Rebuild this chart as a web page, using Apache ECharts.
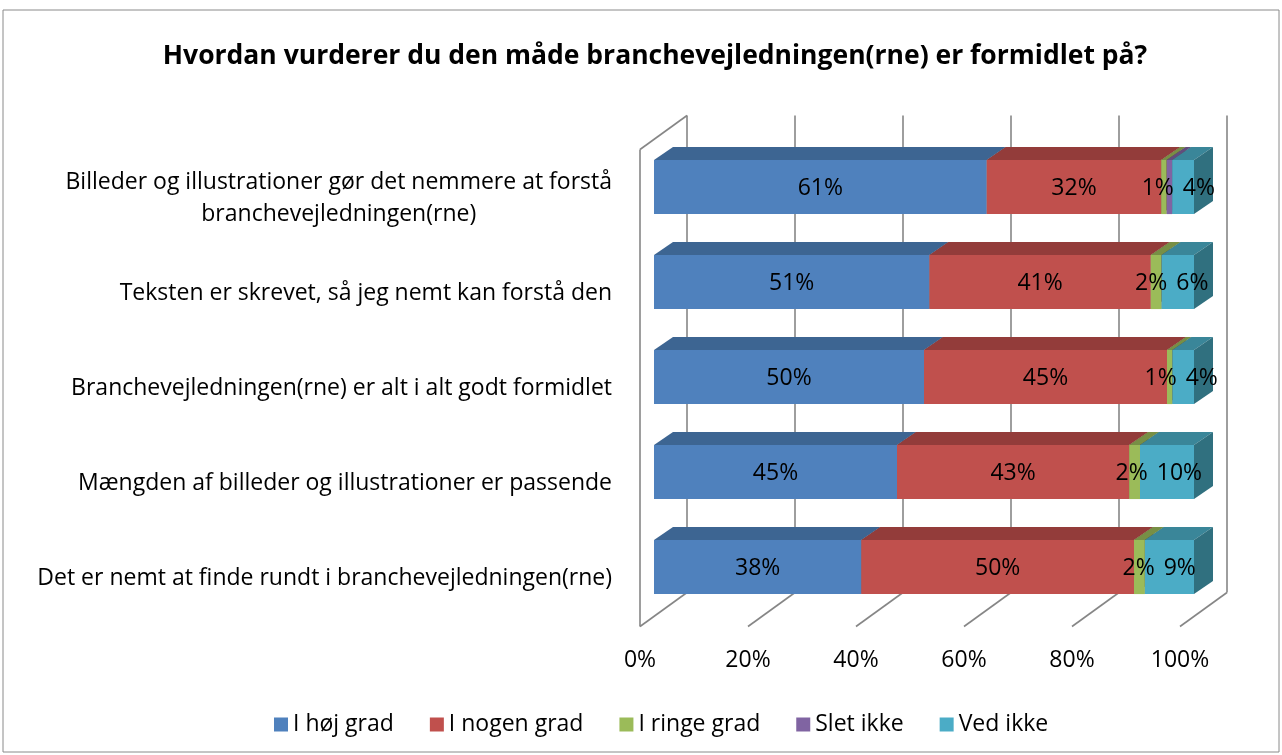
<!DOCTYPE html>
<html>
<head>
<meta charset="utf-8">
<script src="https://cdn.jsdelivr.net/npm/echarts@6/dist/echarts.min.js"></script>
<style>
  html, body { margin: 0; padding: 0; background: #fff; }
  #chart { width: 1282px; height: 755px; }
</style>
</head>
<body>
<div id="chart"></div>
<script>
var chart = echarts.init(document.getElementById('chart'))
var FONT = '"Open Sans", "Noto Sans", sans-serif'
var FS = 23

var categories = [
  'Billeder og illustrationer gør det nemmere at forstå\nbranchevejledningen(rne)',
  'Teksten er skrevet, så jeg nemt kan forstå den',
  'Branchevejledningen(rne) er alt i alt godt formidlet',
  'Mængden af billeder og illustrationer er passende',
  'Det er nemt at finde rundt i branchevejledningen(rne)'
]
var seriesNames = ['I høj grad', 'I nogen grad', 'I ringe grad', 'Slet ikke', 'Ved ikke']
var hoejGrad  = [61, 51, 50, 45, 38]
var nogenGrad = [32, 41, 45, 43, 50]
var ringeGrad = [1, 2, 1, 2, 2]
var sletIkke  = [1, 0, 0, 0, 0]
var vedIkke   = [4, 6, 4, 10, 9]
var xTicks = [0, 20, 40, 60, 80, 100]

var seriesValues = [hoejGrad, nogenGrad, ringeGrad, sletIkke, vedIkke]

var frontColors = ['#4F81BD', '#C0504D', '#9BBB59', '#8064A2', '#4BACC6']
var topColors   = ['#3D6592', '#933C3A', '#778F45', '#624D7D', '#3A8699']
var sideColors  = ['#345679', '#7B3331', '#627638', '#513F66', '#30707F']

var depthX = 19, depthY = -13      // bar depth
var frontOff = [-14, 10]           // front plane of the walls vs bar front
var backOff = [33, -24]            // back wall vs bar front
var barRatio = 0.57
var labelGap = 9
var wallColor = '#868686'

// stack every row to 100 %
var barData = seriesNames.map(function () { return [] })
var labelData = []
categories.forEach(function (c, i) {
  var total = 0, lastIdx = -1
  seriesValues.forEach(function (v, s) {
    total += v[i]
    if (v[i] > 0) lastIdx = s
  })
  var acc = 0
  seriesValues.forEach(function (v, s) {
    var start = acc / total * 100
    acc += v[i]
    var end = acc / total * 100
    barData[s].push([i, start, end])
    if (v[i] > 0 && s !== 3) labelData.push([i, start, end, v[i], s === lastIdx ? 1 : 0])
  })
})

var measureCtx = document.createElement('canvas').getContext('2d')
function textWidth(t) {
  measureCtx.font = FS + 'px ' + FONT
  return measureCtx.measureText(t).width
}

// label centres of one row, pushed apart where they would overlap
function rowLabelCenters(api, cat) {
  var items = labelData.filter(function (d) { return d[0] === cat })
  var pos = items.map(function (d) {
    var a = api.coord([d[1], cat])[0], b = api.coord([d[2], cat])[0]
    return { c: (a + b + (d[4] ? depthX : 0)) / 2, w: textWidth(d[3] + '%') }
  })
  for (var k = 0; k < pos.length - 1; k++) {
    var ov = (pos[k].c + pos[k].w / 2 + labelGap) - (pos[k + 1].c - pos[k + 1].w / 2)
    if (ov > 0) {
      pos[k].c -= ov / 2
      pos[k + 1].c += ov / 2
    }
  }
  return items.map(function (d, k) { return { start: d[1], c: pos[k].c } })
}

function renderBar(s) {
  return function (params, api) {
    var cat = api.value(0), start = api.value(1), end = api.value(2)
    if (end - start <= 0) return
    var p0 = api.coord([start, cat])
    var p1 = api.coord([end, cat])
    var h = api.size([0, 1])[1] * barRatio
    var top = p0[1] - h / 2, bot = p0[1] + h / 2
    var x0 = p0[0], x1 = p1[0]
    return {
      type: 'group',
      children: [
        { // front
          type: 'rect',
          shape: { x: x0, y: top, width: x1 - x0, height: h },
          style: { fill: frontColors[s] }
        },
        { // top face
          type: 'polygon',
          shape: { points: [[x0, top], [x0 + depthX, top + depthY], [x1 + depthX, top + depthY], [x1, top]] },
          style: { fill: topColors[s] }
        },
        { // side face
          type: 'polygon',
          shape: { points: [[x1, top], [x1 + depthX, top + depthY], [x1 + depthX, bot + depthY], [x1, bot]] },
          style: { fill: sideColors[s] }
        }
      ]
    }
  }
}

var series = []

// walls, gridlines and x tick labels
series.push({
  type: 'custom',
  z: 1,
  silent: true,
  data: xTicks.map(function (t) { return [t] }),
  renderItem: function (params, api) {
    var cs = params.coordSys
    var t = api.value(0)
    var x = api.coord([t, 0])[0]
    var top = cs.y, bot = cs.y + cs.height + 2
    var ls = { stroke: wallColor, lineWidth: 1.6 }
    var children = [
      { type: 'line', shape: { x1: x + frontOff[0], y1: bot + frontOff[1], x2: x + backOff[0], y2: bot + backOff[1] }, style: ls },
      { type: 'line', shape: { x1: x + backOff[0], y1: top + backOff[1], x2: x + backOff[0], y2: bot + backOff[1] }, style: ls },
      {
        type: 'text',
        style: {
          x: x + frontOff[0], y: bot + frontOff[1] + 34,
          text: t + '%', align: 'center', verticalAlign: 'middle',
          fontSize: FS, fontFamily: FONT, fill: '#000'
        }
      }
    ]
    if (t === xTicks[0]) {
      children.push({ type: 'line', shape: { x1: x + frontOff[0], y1: top + frontOff[1], x2: x + frontOff[0], y2: bot + frontOff[1] }, style: ls })
      children.push({ type: 'line', shape: { x1: x + frontOff[0], y1: top + frontOff[1], x2: x + backOff[0], y2: top + backOff[1] }, style: ls })
    }
    return { type: 'group', children: children }
  }
})

seriesNames.forEach(function (name, s) {
  series.push({
    name: name,
    type: 'custom',
    z: 2,
    itemStyle: { color: frontColors[s] },
    encode: { x: [1, 2], y: 0 },
    data: barData[s],
    renderItem: renderBar(s)
  })
})

// value labels on top of all bars
series.push({
  type: 'custom',
  z: 3,
  silent: true,
  data: labelData,
  renderItem: function (params, api) {
    var cat = api.value(0), start = api.value(1)
    var p0 = api.coord([start, cat])
    var cx = p0[0]
    rowLabelCenters(api, cat).forEach(function (l) {
      if (l.start === start) cx = l.c
    })
    return {
      type: 'text',
      style: {
        x: cx, y: p0[1] + 1,
        text: api.value(3) + '%',
        align: 'center', verticalAlign: 'middle',
        fontSize: FS, fontFamily: FONT, fill: '#000'
      }
    }
  }
})

var option = {
  animation: false,
  backgroundColor: '#fff',
  title: {
    text: 'Hvordan vurderer du den måde branchevejledningen(rne) er formidlet på?',
    left: 650,
    textAlign: 'center',
    top: 38,
    textStyle: { fontSize: 26.5, fontWeight: 'bold', fontFamily: FONT, color: '#000' }
  },
  legend: {
    data: seriesNames,
    left: 269,
    top: 708,
    icon: 'rect',
    itemWidth: 14,
    itemHeight: 14,
    itemGap: 36,
    textStyle: { fontSize: FS, fontFamily: FONT, color: '#000' }
  },
  grid: { left: 654, right: 88, top: 139.5, bottom: 140.5 },
  xAxis: { type: 'value', min: 0, max: 100, show: false },
  yAxis: {
    type: 'category',
    data: categories,
    inverse: true,
    axisLine: { show: false },
    axisTick: { show: false },
    splitLine: { show: false },
    axisLabel: {
      margin: 42,
      fontSize: FS,
      fontFamily: FONT,
      color: '#000',
      align: 'right',
      lineHeight: 32,
      padding: [22, 0, 0, 0],
      formatter: function (v) {
        var lines = v.split('\n')
        if (lines.length === 1) return v
        return lines.map(function (l) { return '{c|' + l + '}' }).join('\n')
      },
      rich: { c: { align: 'center', fontSize: FS, lineHeight: 32, fontFamily: FONT, color: '#000' } }
    }
  },
  graphic: [{
    type: 'rect',
    silent: true,
    shape: { x: 3, y: 10, width: 1276, height: 742 },
    style: { fill: 'none', stroke: '#8a8a8a', lineWidth: 1 }
  }],
  series: series
}

chart.setOption(option)
</script>
</body>
</html>
